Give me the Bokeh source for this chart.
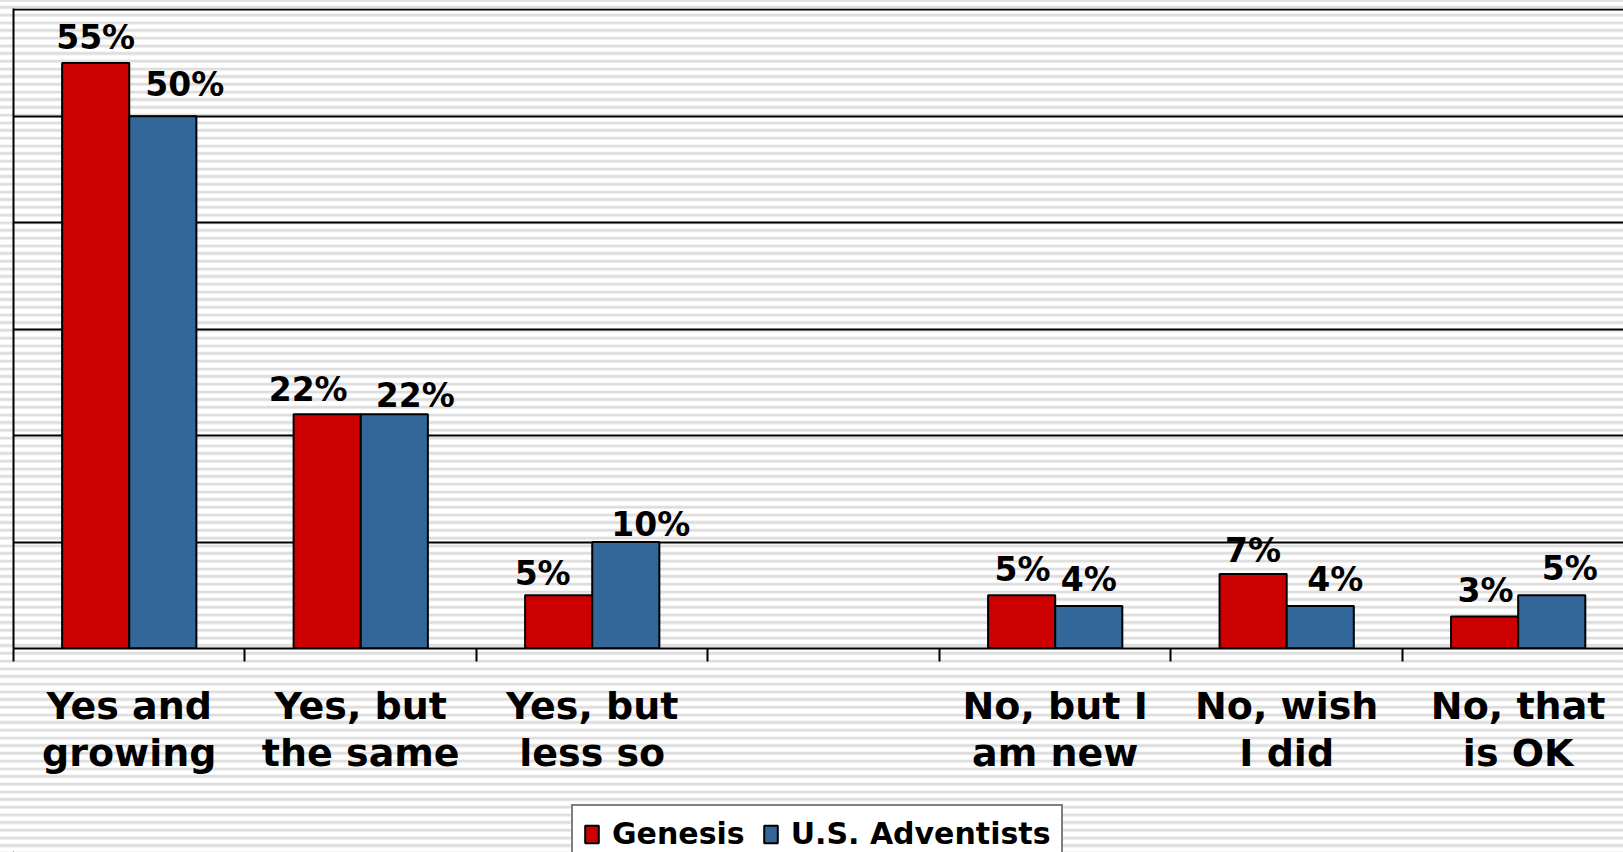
from bokeh.plotting import figure
from bokeh.layouts import column
from bokeh.models import (ColumnDataSource, Range1d, FixedTicker, Legend, LegendItem)
from bokeh.core.properties import value
from bokeh.embed import file_html
from bokeh.resources import INLINE

# ---------------- data ----------------
categories = ["Yes and\ngrowing", "Yes, but\nthe same", "Yes, but\nless so", "",
              "No, but I\nam new", "No, wish\nI did", "No, that\nis OK"]
genesis = [55, 22, 5, None, 5, 7, 3]
adventists = [50, 22, 10, None, 4, 4, 5]
series_names = ["Genesis", "U.S. Adventists"]

# label nudges in screen pixels (layout only)
genesis_label_dx = [0, -19, -16, 0, 1, 0, 1]
genesis_label_gap = [16, 15, 12, 0, 16, 13, 16]
adventists_label_dx = [22, 21, 25, 0, 0, 15, 18]
adventists_label_gap = [22, 9, 8, 0, 16, 16, 17]
LABEL_LIFT = 10

RED = "#CC0000"
BLUE = "#336699"
FONT = "DejaVu Sans"
BAR_W = 0.29
W = 1623


def build(vals, dxs, gaps, shift):
    d = dict(x=[], top=[], label=[], dx=[], dy=[])
    for i, v in enumerate(vals):
        if v is None:
            continue
        d["x"].append(i + 0.5 + shift)
        d["top"].append(v)
        d["label"].append(f"{v}%")
        d["dx"].append(dxs[i])
        d["dy"].append(-(gaps[i] + LABEL_LIFT))
    return ColumnDataSource(d)


src_g = build(genesis, genesis_label_dx, genesis_label_gap, -BAR_W / 2)
src_a = build(adventists, adventists_label_dx, adventists_label_gap, BAR_W / 2)

p = figure(width=W, height=800,
           x_range=Range1d(0, 6.955), y_range=Range1d(0, 60.12),
           output_backend="svg", toolbar_location=None,
           min_border_left=13, min_border_right=0, min_border_top=8,
           min_border_bottom=152,
           background_fill_alpha=0, border_fill_alpha=0,
           outline_line_color=None)

# striped page background
try:
    from bokeh.models import GlobalInlineStyleSheet
    css = ("html, body { background: repeating-linear-gradient(to bottom, "
           "#ffffff 0px, #ffffff 4.2px, #e6e6e6 4.2px, #d9d9d9 5.6px, "
           "#e6e6e6 7px, #ffffff 7.69px); background-position: 0 1.7px; }")
    p.stylesheets = [GlobalInlineStyleSheet(css=css)]
except Exception:
    pass

r_g = p.vbar(x="x", top="top", bottom=0, width=BAR_W, source=src_g,
             fill_color=RED, line_color="black", line_width=2)
r_a = p.vbar(x="x", top="top", bottom=0, width=BAR_W, source=src_a,
             fill_color=BLUE, line_color="black", line_width=2)

for src in (src_g, src_a):
    p.text(x="x", y="top", text="label", source=src,
           x_offset="dx", y_offset="dy",
           text_align="center", text_baseline="alphabetic",
           text_font=value(FONT), text_font_size="33px",
           text_font_style="bold", text_color="black")

# grid
p.xgrid.visible = False
p.ygrid.ticker = FixedTicker(ticks=[10, 20, 30, 40, 50, 60])
p.ygrid.grid_line_color = "black"
p.ygrid.grid_line_width = 2

# y axis: just the line
ya = p.yaxis[0]
ya.ticker = FixedTicker(ticks=[])
ya.major_tick_out = 0
ya.major_tick_in = 0
ya.minor_tick_out = 0
ya.minor_tick_in = 0
ya.major_label_standoff = 0
ya.axis_line_color = "black"
ya.axis_line_width = 2

# x axis
xa = p.xaxis[0]
label_pos = [i + 0.5 for i, c in enumerate(categories) if c]
label_txt = [c for c in categories if c]
xa.ticker = FixedTicker(ticks=label_pos, minor_ticks=list(range(len(categories) + 1)))
xa.major_label_overrides = {c: lab for c, lab in zip(label_pos, label_txt)}
xa.major_tick_out = 0
xa.major_tick_in = 0
xa.minor_tick_out = 13
xa.minor_tick_in = 0
xa.minor_tick_line_color = "black"
xa.minor_tick_line_width = 2
xa.axis_line_color = "black"
xa.axis_line_width = 2
xa.major_label_text_font = FONT
xa.major_label_text_font_size = "38px"
xa.major_label_text_font_style = "bold"
xa.major_label_text_color = "black"
xa.major_label_text_line_height = 1.07
xa.major_label_standoff = 22

# ---------------- legend strip ----------------
LH = 52
p2 = figure(width=W, height=LH, x_range=Range1d(0, W), y_range=Range1d(0, LH),
            output_backend="svg", toolbar_location=None,
            min_border_left=0, min_border_right=0, min_border_top=0,
            min_border_bottom=0, x_axis_location=None, y_axis_location=None,
            background_fill_alpha=0, border_fill_alpha=0,
            outline_line_color=None)
p2.grid.visible = False
# off-screen proxies so the legend can draw its swatches
lg_g = p2.vbar(x=[-5000], top=[-5000], bottom=-5001, width=1,
               fill_color=RED, line_color="black", line_width=2)
lg_a = p2.vbar(x=[-5000], top=[-5000], bottom=-5001, width=1,
               fill_color=BLUE, line_color="black", line_width=2)

legend = Legend(items=[LegendItem(label=value(series_names[0]), renderers=[lg_g]),
                       LegendItem(label=value(series_names[1]), renderers=[lg_a])],
                orientation="horizontal", location=(558, -11),
                label_text_font=FONT, label_text_font_size="30px",
                label_text_font_style="bold", label_text_color="black",
                glyph_width=17, glyph_height=22, label_standoff=12,
                spacing=17, padding=10, margin=0,
                border_line_color="black", border_line_width=2,
                background_fill_color="white", background_fill_alpha=1)
p2.add_layout(legend)

layout = column(p, p2, spacing=0)
open("out.html", "w").write(file_html(layout, INLINE))
